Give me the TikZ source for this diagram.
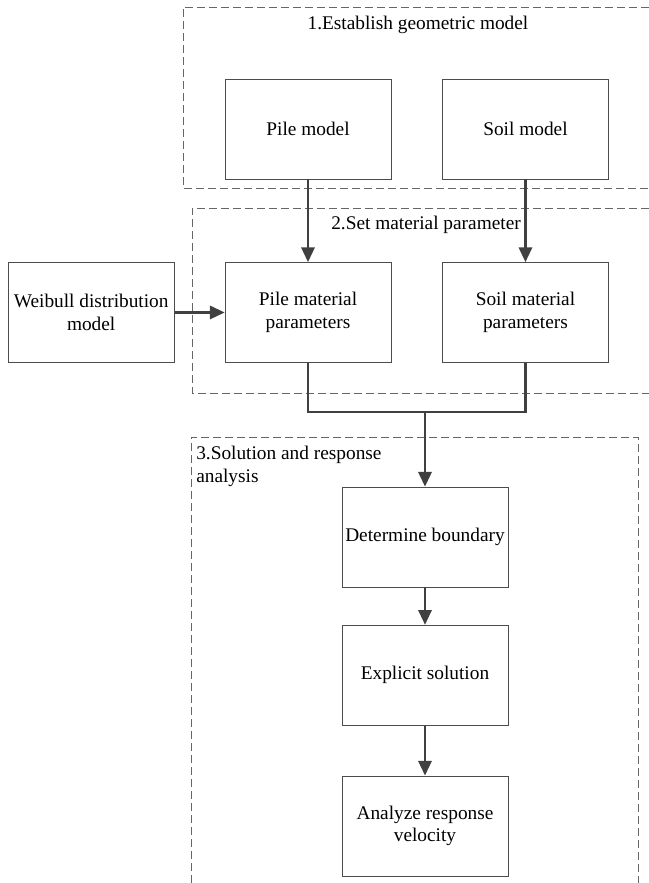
\documentclass[tikz,border=0pt]{standalone}
\usepackage{fontspec}
\setmainfont{Liberation Serif}
\usepackage{tikz}
\usetikzlibrary{arrows.meta,positioning,calc}

\begin{document}
\begin{tikzpicture}[
    x=0.75pt, y=-0.75pt,
    node distance=62pt and 38pt,
    blk/.style={rectangle, draw=black!70, line width=0.6pt, fill=white, align=center, minimum height=75pt, minimum width=124.5pt, inner sep=2pt, font=\fontsize{14.5}{17}\selectfont},
    grp/.style={draw=black!60, line width=0.6pt, dash pattern=on 6pt off 3pt},
    ttl/.style={inner sep=0pt, align=left, font=\fontsize{14.5}{17}\selectfont},
    arr/.style={-{Triangle[length=11pt, width=10pt]}, line width=1.6pt, draw=black!75},
    lnk/.style={line width=1.6pt, draw=black!75}
]
    \useasboundingbox (0,0) rectangle (649,883);

    % dashed groups
    \draw [grp] (649,7) -- (183,7) -- (183,188) -- (649,188);
    \draw [grp] (649,208) -- (192,208) -- (192,393) -- (649,393);
    \draw [grp] (191,883) -- (191,437) -- (638,437) -- (638,883);

    \node [ttl] (t1) at (418,25) {1.Establish geometric model};
    \node [ttl] (t2) at (426,225) {2.Set material parameter};
    \node [ttl, anchor=north west] (t3) at (196,446) {3.Solution and response\\analysis};

    % step 1
    \node [blk] (pile) at (308,129) {Pile model};
    \node [blk, right=of pile] (soil) {Soil model};

    % step 2
    \node [blk, below=of pile] (pilemat) {Pile material\\parameters};
    \node [blk, right=of pilemat] (soilmat) {Soil material\\parameters};
    \node [blk, left=37.5pt of pilemat] (weib) {Weibull distribution\\model};

    % step 3
    \node [blk] (bound) at (425,537) {Determine boundary};
    \node [blk, below=28pt of bound] (expl) {Explicit solution};
    \node [blk, below=37.5pt of expl] (resp) {Analyze response\\velocity};

    \coordinate (join) at (425,412);

    \draw [arr] (pile) -- (pilemat);
    \draw [arr] (soil) -- (soilmat);
    \draw [arr] (weib) -- (pilemat);
    \draw [lnk] (pilemat.south) |- (join);
    \draw [lnk] (soilmat.south) |- (join);
    \draw [arr] (join) -- (bound);
    \draw [arr] (bound) -- (expl);
    \draw [arr] (expl) -- (resp);
\end{tikzpicture}
\end{document}
